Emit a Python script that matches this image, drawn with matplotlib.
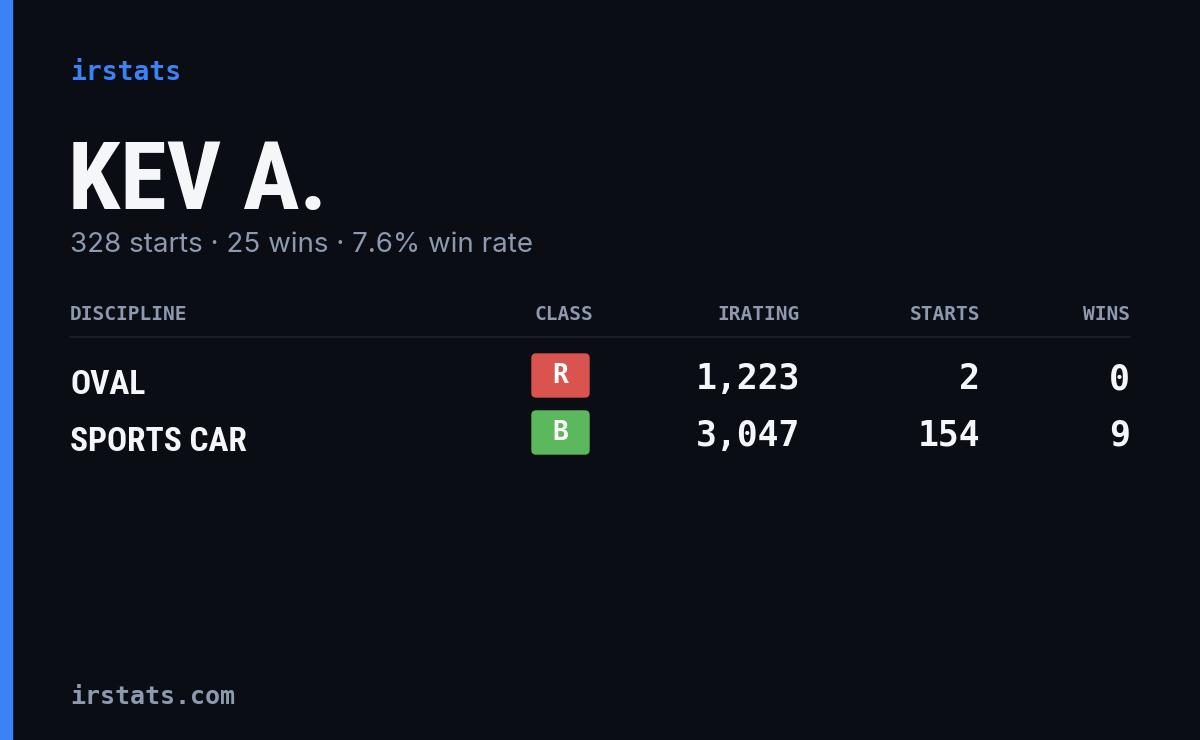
import matplotlib
matplotlib.use("Agg")
import matplotlib.pyplot as plt
from matplotlib import font_manager
from matplotlib.patches import FancyBboxPatch, Rectangle

BG = "#0a0d14"
BLUE = "#3b82f6"
MUTED = "#8d99ae"
WHITE = "#f4f6fa"

driver = "KEV A."
total_starts = 328
total_wins = 25
win_rate = 7.6

disciplines = ["OVAL", "SPORTS CAR"]
classes = ["R", "B"]
class_colors = ["#d9534f", "#5cb85c"]
iratings = [1223, 3047]
starts = [2, 154]
wins = [0, 9]
headers = ["DISCIPLINE", "CLASS", "IRATING", "STARTS", "WINS"]

available = {f.name for f in font_manager.fontManager.ttflist}
narrow_pref = ["Roboto Condensed", "Open Sans Condensed", "Liberation Sans Narrow",
               "DejaVu Sans"]
narrow_ok = [n for n in narrow_pref[:-1] if n in available]
NARROW = narrow_ok + ["DejaVu Sans"]
has_narrow = bool(narrow_ok)
MONO = ["DejaVu Sans Mono"]
SANS = ["Inter", "DejaVu Sans"]

fig = plt.figure(figsize=(12, 7.4), dpi=100)
fig.patch.set_facecolor(BG)
ax = fig.add_axes([0, 0, 1, 1])
ax.set_xlim(0, 1200)
ax.set_ylim(740, 0)
ax.axis("off")

ax.add_patch(Rectangle((0, 0), 12, 740, color=BLUE))

ax.text(70, 73, "irstats", family=MONO, fontsize=19, fontweight="bold",
        color=BLUE, va="center")
ax.text(68, 183, driver, family=NARROW, fontsize=68 if has_narrow else 50,
        fontweight="bold", fontstretch="condensed", color=WHITE, va="center")
ax.text(70, 245, f"{total_starts} starts · {total_wins} wins · {win_rate}% win rate",
        family=SANS, fontsize=20, color=MUTED, va="center")

col_x = [70, 593, 800, 980, 1130]
col_ha = ["left", "right", "right", "right", "right"]
for h, x, ha in zip(headers, col_x, col_ha):
    ax.text(x, 314, h, family=MONO, fontsize=14, fontweight="bold",
            color=MUTED, va="center", ha=ha)
ax.plot([70, 1130], [337, 337], color="#1c212c", lw=1.2)

row_y = [380, 437]
for i, y in enumerate(row_y):
    ax.text(70, y + 5, disciplines[i], family=NARROW,
            fontsize=24 if has_narrow else 19, fontweight="bold",
            fontstretch="condensed", color=WHITE, va="center")
    ax.add_patch(FancyBboxPatch((532 + 4, y - 26 + 4), 57 - 8, 43 - 8,
                                boxstyle="round,pad=4", color=class_colors[i]))
    ax.text(560, y - 4, classes[i], family=MONO, fontsize=19, fontweight="bold",
            color="white", va="center", ha="center")
    for val, x in zip([f"{iratings[i]:,}", str(starts[i]), str(wins[i])], col_x[2:]):
        ax.text(x, y - 1, val, family=MONO, fontsize=25, fontweight="bold",
                color=WHITE, va="center", ha="right")

ax.text(70, 697, "irstats.com", family=MONO, fontsize=18, fontweight="bold",
        color=MUTED, va="center")

fig.savefig("out.png", facecolor=BG)
